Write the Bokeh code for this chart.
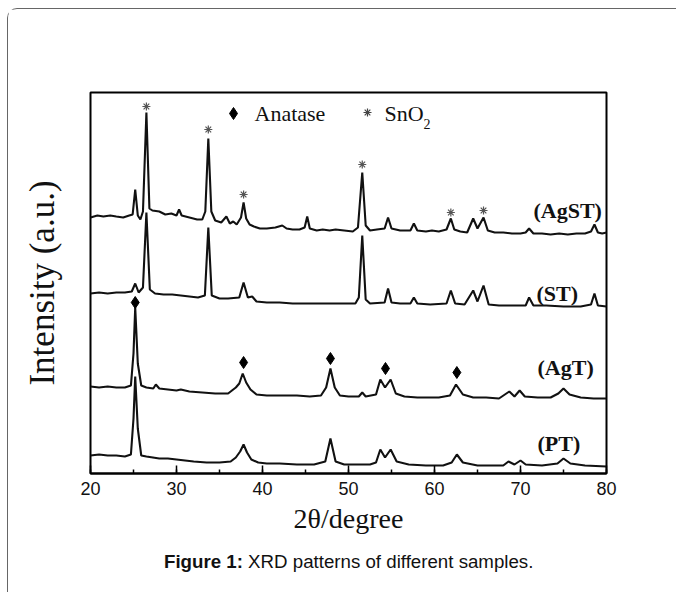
import numpy as np
from bokeh.plotting import figure
from bokeh.layouts import column
from bokeh.models import Range1d, SingleIntervalTicker, FixedTicker, Div
from bokeh.core.properties import value
from bokeh.embed import file_html
from bokeh.resources import INLINE

# ---------------- data (2theta in degrees, intensity in a.u., stacked) ----------------
tt_agst = [20.0, 20.8, 21.5, 22.3, 23.0, 23.8, 24.5, 24.9, 25.2, 25.5, 25.8, 26.1, 26.5, 26.85,
           27.2, 28.0, 28.7, 29.4, 30.0, 30.3, 30.6, 31.5, 32.4, 33.0, 33.35, 33.7, 34.05, 34.5,
           35.2, 35.8, 36.2, 36.6, 37.0, 37.5, 37.8, 38.1, 38.5, 39.0, 39.7, 40.5, 41.5, 42.3,
           42.8, 43.5, 44.3, 44.9, 45.2, 45.5, 46.3, 47.0, 47.8, 48.5, 49.5, 50.5, 51.1, 51.6,
           52.0, 52.5, 53.3, 54.2, 54.6, 55.0, 56.0, 57.2, 57.6, 58.0, 59.0, 59.7, 60.5, 61.4,
           61.9, 62.3, 63.0, 63.8, 64.5, 65.0, 65.7, 66.2, 67.0, 68.0, 69.0, 70.0, 70.6, 71.0,
           71.5, 72.5, 73.5, 74.5, 75.5, 76.5, 77.5, 78.2, 78.6, 79.0, 79.5, 80.0]
int_agst = [256, 258, 257, 258, 257, 256, 258, 259, 284, 258, 254, 262, 361, 265,
            263, 262, 259, 260, 258, 264, 258, 256, 254, 254, 262, 335, 262, 253,
            251, 257, 250, 252, 249, 256, 271, 255, 249, 247, 245, 245, 246, 248,
            245, 244, 244, 246, 257, 245, 243, 244, 243, 244, 243, 242, 246, 301,
            248, 243, 244, 245, 256, 245, 243, 243, 250, 243, 242, 243, 242, 244,
            255, 244, 242, 241, 255, 245, 256, 243, 241, 241, 240, 240, 241, 245,
            240, 240, 239, 240, 239, 240, 240, 242, 249, 241, 240, 241]

tt_st = [20.0, 21.0, 22.0, 23.0, 24.0, 24.8, 25.2, 25.6, 26.1, 26.5, 26.9, 27.5, 28.5, 29.5,
         30.5, 31.5, 32.5, 33.3, 33.7, 34.1, 35.0, 36.0, 37.3, 37.8, 38.3, 38.8, 39.3, 40.5,
         42.0, 43.5, 45.0, 46.5, 48.0, 49.5, 50.8, 51.2, 51.6, 52.0, 52.5, 54.2, 54.6, 55.0,
         56.0, 57.2, 57.6, 58.0, 59.5, 61.4, 61.9, 62.4, 63.5, 64.5, 65.0, 65.7, 66.3, 67.5,
         69.0, 70.6, 71.0, 71.5, 73.0, 75.0, 77.0, 78.2, 78.6, 79.0, 80.0]
int_st = [180, 181, 180, 181, 181, 182, 190, 181, 186, 261, 184, 180, 179, 179,
          178, 177, 176, 178, 246, 178, 175, 175, 176, 191, 176, 177, 172, 171,
          171, 170, 170, 170, 170, 170, 170, 176, 238, 174, 170, 171, 185, 171,
          170, 170, 176, 170, 169, 170, 183, 170, 169, 183, 172, 188, 169, 168,
          168, 168, 176, 168, 168, 167, 167, 169, 180, 168, 167]

tt_agt = [20.0, 21.0, 22.0, 23.0, 24.0, 24.7, 25.0, 25.2, 25.5, 25.9, 26.5, 27.3, 27.6, 28.0,
          29.0, 30.0, 30.5, 31.5, 33.0, 34.5, 36.0, 36.9, 37.3, 37.7, 38.1, 38.6, 39.3, 40.5,
          42.0, 44.0, 45.5, 46.8, 47.4, 47.9, 48.4, 49.0, 50.0, 51.2, 51.6, 52.0, 53.2, 53.7,
          54.25, 54.9, 55.5, 56.5, 58.0, 59.5, 60.5, 61.8, 62.5, 63.3, 64.5, 66.0, 67.5, 68.7,
          69.3, 69.9, 70.5, 72.0, 73.5, 74.4, 75.0, 75.7, 77.0, 78.5, 80.0]
int_agt = [87, 86, 87, 86, 86, 88, 120, 166, 110, 88, 86, 85, 89, 85,
           84, 83, 84, 82, 81, 80, 80, 86, 90, 100, 91, 84, 79, 78,
           78, 78, 77, 78, 86, 105, 86, 78, 77, 77, 81, 77, 79, 94,
           86, 94, 80, 77, 76, 76, 76, 78, 89, 79, 76, 76, 75, 82,
           77, 83, 77, 76, 76, 80, 85, 79, 76, 75, 75]

tt_pt = [20.0, 21.0, 22.0, 23.0, 24.0, 24.7, 25.0, 25.2, 25.5, 25.9, 26.5, 28.0, 29.0, 30.0,
         31.0, 32.0, 33.5, 35.0, 36.3, 36.9, 37.4, 37.8, 38.2, 38.7, 39.5, 40.5, 42.0, 44.0,
         46.0, 47.3, 47.9, 48.5, 49.5, 51.0, 52.5, 53.2, 53.7, 54.25, 54.9, 55.6, 57.0, 59.0,
         61.0, 62.0, 62.6, 63.3, 65.0, 67.0, 68.0, 68.6, 69.3, 70.0, 70.6, 72.5, 74.3, 75.0,
         75.8, 77.5, 80.0]
int_pt = [18, 19, 18, 18, 17, 19, 55, 97, 45, 18, 17, 15, 15, 14,
          13, 12, 11, 11, 12, 16, 22, 29, 21, 14, 11, 10, 10, 9,
          9, 12, 35, 12, 9, 9, 9, 11, 24, 16, 24, 12, 9, 8,
          8, 11, 19, 11, 8, 8, 8, 12, 9, 13, 9, 8, 10, 15,
          10, 8, 7]

# phase markers
sno2_tt = [26.5, 33.7, 37.8, 51.6, 61.9, 65.7]
sno2_int = [367, 344, 279, 309, 261, 263]
anatase_tt = [25.2, 37.8, 47.9, 54.3, 62.6]
anatase_int = [171, 111, 115, 105, 101]

sample_names = ["(AgST)", "(ST)", "(AgT)", "(PT)"]

# ---------------- figure ----------------
W, H = 660, 550
p = figure(width=W, height=H, output_backend="svg", toolbar_location=None,
           x_range=Range1d(20, 80), y_range=Range1d(0, 381),
           min_border_left=82, min_border_right=62, min_border_top=83, min_border_bottom=86)
p.grid.visible = False
p.outline_line_color = "black"
p.outline_line_width = 2
p.outline_line_alpha = 1.0
p.background_fill_color = "white"
p.border_fill_color = "white"

ax = p.xaxis[0]
ax.ticker = SingleIntervalTicker(interval=10, num_minor_ticks=2)
ax.axis_line_width = 2
ax.axis_line_color = "black"
ax.major_tick_in = 8
ax.major_tick_out = 0
ax.minor_tick_in = 4
ax.minor_tick_out = 0
ax.major_tick_line_width = 1.5
ax.minor_tick_line_width = 1.5
ax.major_tick_line_color = "black"
ax.minor_tick_line_color = "black"
ax.major_label_text_font = "Liberation Sans"
ax.major_label_text_font_size = "18px"
ax.major_label_text_color = "#111111"
ax.major_label_standoff = 8
ax.axis_label = "2θ/degree"
ax.axis_label_text_font = "Liberation Serif"
ax.axis_label_text_font_style = "normal"
ax.axis_label_text_font_size = "28px"
ax.axis_label_text_color = "#111111"
ax.axis_label_standoff = 5

ay = p.yaxis[0]
ay.ticker = FixedTicker(ticks=[])
ay.axis_line_color = None
ay.major_tick_line_color = None
ay.minor_tick_line_color = None
ay.major_tick_out = 0
ay.major_tick_in = 0
ay.major_label_standoff = 0
ay.axis_label = "Intensity (a.u.)"
ay.axis_label_text_font = "Liberation Serif"
ay.axis_label_text_font_style = "normal"
ay.axis_label_text_font_size = "35px"
ay.axis_label_text_color = "#111111"
ay.axis_label_standoff = 29

# traces
for xs, ys in [(tt_agst, int_agst), (tt_st, int_st), (tt_agt, int_agt), (tt_pt, int_pt)]:
    p.line(xs, ys, line_color="#111111", line_width=2.1)

# phase markers
p.scatter(sno2_tt, sno2_int, marker="asterisk", size=8, line_color="#555555", line_width=1.2)
p.scatter(anatase_tt, anatase_int, marker="diamond", size=12, fill_color="black", line_color="black")


def dx(px):
    return 20 + (px - 91) / 8.6


def dy(py):
    return 473 - py


# legend
p.scatter([dx(234)], [dy(113)], marker="diamond", size=12, fill_color="black", line_color="black")
p.scatter([dx(368)], [dy(112)], marker="asterisk", size=8, line_color="#444444", line_width=1.2)
p.text([dx(255)], [dy(113)], text=["Anatase"], text_font=value("Liberation Serif"),
       text_font_size="22px", text_baseline="middle", text_align="left", text_color="#111111")
p.text([dx(385)], [dy(113)], text=["SnO"], text_font=value("Liberation Serif"),
       text_font_size="22px", text_baseline="middle", text_align="left", text_color="#111111")
p.text([dx(424)], [dy(123)], text=["2"], text_font=value("Liberation Serif"),
       text_font_size="14px", text_baseline="middle", text_align="left", text_color="#111111")

# sample labels
p.text([dx(534), dx(537), dx(538), dx(538)], [dy(210), dy(293), dy(367), dy(443)],
       text=sample_names, text_font=value("Liberation Serif"), text_font_style="bold",
       text_font_size="22px", text_baseline="middle", text_align="left", text_color="#111111")

# caption
cap = Div(text="<b>Figure 1:</b> XRD patterns of different samples.", width=666, height=32,
          styles={"font-family": "Liberation Sans, Arial, sans-serif", "font-size": "18.7px",
                  "color": "#111111", "line-height": "16px", "padding-left": "151px",
                  "box-sizing": "border-box", "position": "relative", "top": "-10px"})

layout = column(p, cap, spacing=0)
layout.margin = (8, 0, 0, 7)
layout.styles = {"border-left": "1.5px solid #666", "border-top": "1.5px solid #666",
                 "border-top-left-radius": "10px"}

open("out.html", "w").write(file_html(layout, INLINE))
